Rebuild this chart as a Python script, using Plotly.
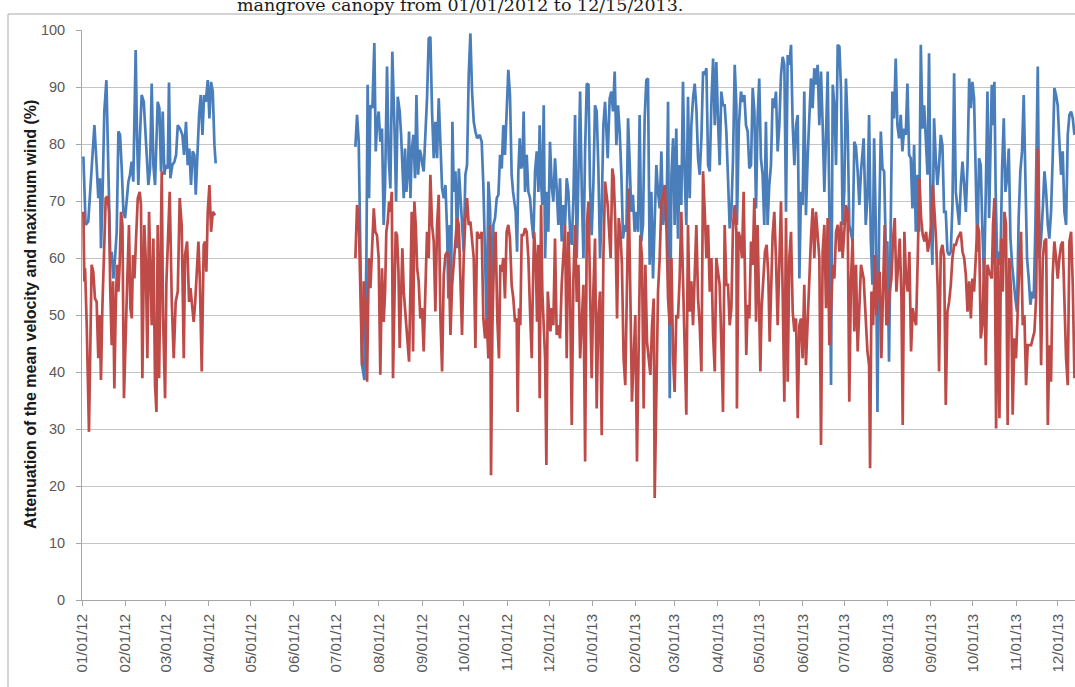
import plotly.graph_objects as go
import pandas as pd

# ---------------- data (day offset from 2012-01-01, value %) ----------------
START = "2012-01-01"

blue_2012_jan_apr = [
    (1.0, 77.8), (2.6, 65.8), (4.5, 66.4), (6.9, 75.7), (8.9, 83.3), (10.5, 76.3), (11.7, 70.5), (12.9, 74.0),
    (13.6, 61.7), (14.6, 69.3), (16.0, 85.7), (17.5, 91.2), (18.4, 81.6), (19.4, 73.4), (20.3, 60.0), (21.3, 61.1),
    (22.5, 56.4), (23.7, 60.0), (24.9, 64.6), (26.1, 82.2), (27.3, 81.6), (28.5, 75.7), (29.7, 68.1), (30.9, 67.0),
    (32.1, 70.5), (33.3, 73.4), (34.4, 74.6), (35.6, 76.9), (36.8, 73.4), (38.5, 96.5), (39.5, 81.0), (40.4, 72.8),
    (41.6, 81.6), (42.8, 88.6), (44.3, 87.4), (45.2, 83.3), (46.4, 77.5), (47.6, 72.8), (48.8, 75.7), (50.0, 90.6),
    (51.2, 76.3), (52.4, 72.8), (54.3, 87.4), (55.5, 86.3), (56.7, 75.2), (57.9, 85.7), (59.1, 74.6), (60.0, 76.3),
    (61.5, 75.7), (62.4, 90.8), (63.4, 74.0), (64.8, 76.3), (66.3, 76.9), (67.5, 78.1), (68.7, 83.3), (70.3, 82.7),
    (72.0, 81.6), (73.2, 78.1), (74.6, 83.9), (75.8, 76.3), (77.0, 79.2), (78.2, 72.8), (79.4, 78.7), (80.6, 78.1),
    (81.6, 71.1), (82.8, 79.2), (84.0, 85.1), (85.2, 88.6), (86.4, 81.6), (87.6, 88.6), (88.8, 87.4), (90.2, 91.2),
    (91.4, 84.5), (92.6, 90.9), (93.8, 89.2), (95.0, 79.8), (95.9, 76.6),
]

red_2012_jan_apr = [
    (1.0, 68.1), (1.7, 55.9), (2.2, 58.2), (3.4, 48.2), (5.0, 29.5), (6.9, 58.8), (8.1, 57.6), (9.3, 52.9),
    (10.5, 52.3), (11.7, 42.4), (12.7, 50.0), (13.6, 38.6), (14.6, 51.2), (15.6, 60.0), (17.0, 70.5), (18.4, 70.8),
    (19.4, 68.1), (20.3, 54.1), (21.3, 44.7), (22.3, 55.9), (23.2, 37.1), (24.2, 51.2), (25.1, 58.8), (26.1, 54.1),
    (27.0, 58.8), (28.0, 68.1), (29.0, 65.8), (30.1, 35.4), (31.3, 48.2), (32.3, 54.7), (33.7, 65.8), (34.7, 51.2),
    (35.7, 49.4), (36.6, 60.5), (37.6, 56.4), (38.5, 62.9), (40.0, 70.5), (41.4, 71.6), (42.3, 69.3), (43.3, 38.9),
    (44.7, 65.8), (45.7, 60.0), (46.9, 42.4), (48.1, 68.1), (49.0, 58.8), (50.0, 48.2), (51.2, 63.4), (52.4, 37.7),
    (53.4, 33.0), (54.3, 65.8), (55.3, 38.9), (56.5, 69.9), (57.2, 75.2), (58.1, 50.0), (59.6, 35.4), (60.5, 55.3),
    (62.0, 64.6), (62.9, 71.6), (64.4, 52.3), (65.8, 42.4), (67.2, 52.3), (68.7, 54.1), (70.1, 70.5), (71.5, 65.8),
    (73.0, 42.4), (73.9, 60.5), (75.4, 62.9), (76.8, 52.3), (77.8, 54.7), (79.2, 51.2), (80.1, 48.8), (81.1, 51.8),
    (82.3, 58.8), (83.5, 62.9), (84.5, 56.4), (85.9, 40.1), (87.3, 62.3), (88.3, 62.9), (89.2, 57.6), (90.2, 68.1),
    (91.4, 72.8), (92.6, 64.6), (93.8, 68.1), (95.5, 67.5),
]

blue_2012_jul_oct = [
    (196.1, 79.5), (197.3, 85.1), (198.5, 80.4), (199.7, 60.0), (200.9, 41.2), (202.6, 38.6), (204.0, 60.0), (204.9, 90.4),
    (205.9, 70.5), (206.9, 86.8), (208.3, 86.3), (209.7, 97.7), (210.7, 78.7), (211.6, 83.3), (212.8, 85.7), (214.0, 80.4),
    (215.2, 82.7), (216.4, 65.8), (217.4, 72.8), (218.8, 93.6), (220.0, 77.5), (221.2, 72.2), (222.6, 96.2), (224.1, 83.3),
    (225.3, 69.9), (226.5, 88.3), (227.9, 85.7), (228.9, 81.6), (229.8, 74.6), (230.8, 70.5), (231.7, 79.2), (232.7, 71.6),
    (233.7, 75.2), (234.6, 82.2), (235.6, 70.5), (236.5, 78.7), (237.7, 81.6), (238.9, 74.0), (239.9, 88.6), (241.1, 74.6),
    (242.3, 79.0), (243.2, 78.1), (244.2, 76.3), (245.1, 75.2), (246.3, 81.6), (247.5, 88.0), (248.7, 98.5), (249.9, 98.8),
    (251.1, 85.7), (252.3, 77.5), (253.5, 83.9), (254.7, 77.5), (255.9, 88.0), (257.1, 79.8), (258.3, 72.2), (259.5, 70.5),
    (260.7, 72.8), (261.9, 64.6), (262.8, 52.9), (263.8, 65.8), (264.8, 55.3), (265.7, 83.9), (266.7, 71.6), (267.9, 75.2),
    (269.1, 61.7), (270.3, 75.7), (271.5, 70.5), (272.6, 67.5), (273.8, 61.1), (275.0, 74.6), (276.2, 76.3), (277.4, 92.1),
    (278.6, 99.4), (279.8, 89.2), (281.0, 83.9), (282.2, 82.2), (283.4, 81.0), (285.3, 81.6),
]

red_2012_jul_oct = [
    (196.1, 60.0), (197.3, 69.3), (198.5, 67.0), (199.7, 54.1), (200.9, 41.2), (202.1, 55.9), (203.3, 52.3), (204.5, 38.3),
    (205.7, 60.0), (206.9, 54.7), (208.1, 62.9), (209.3, 68.7), (210.4, 64.6), (211.6, 64.0), (212.8, 60.0), (214.0, 39.5),
    (215.2, 58.2), (216.4, 48.8), (217.4, 54.1), (218.3, 64.6), (219.3, 66.4), (220.3, 69.9), (221.2, 68.1), (222.2, 71.6),
    (223.1, 38.9), (224.1, 56.4), (225.0, 64.6), (226.0, 64.0), (227.0, 57.6), (227.9, 44.2), (228.9, 55.3), (229.8, 61.7),
    (230.8, 54.1), (231.7, 51.2), (232.7, 48.2), (233.7, 44.7), (234.6, 41.8), (235.6, 54.7), (236.5, 68.1), (237.5, 43.6),
    (238.4, 69.9), (239.4, 65.8), (240.4, 58.2), (241.5, 55.9), (242.7, 49.4), (243.9, 51.2), (245.1, 43.6), (246.3, 54.1),
    (247.5, 64.6), (248.7, 60.0), (249.9, 74.6), (251.1, 65.8), (252.3, 62.9), (253.5, 50.6), (254.7, 65.8), (255.9, 71.1),
    (257.1, 49.4), (258.3, 40.1), (259.5, 57.0), (260.7, 60.5), (261.9, 61.1), (263.1, 60.0), (264.3, 46.5), (265.5, 55.3),
    (266.7, 58.8), (267.9, 63.4), (269.1, 67.0), (270.3, 65.8), (271.5, 54.1), (272.6, 46.5), (273.8, 60.0), (275.0, 67.0),
    (276.2, 70.5), (277.4, 65.8), (278.6, 66.4), (279.8, 63.4), (281.0, 60.0), (282.2, 44.2), (283.4, 64.6), (285.3, 63.4),
]

blue_2012_oct_2013_jan = [
    (286.7, 80.4), (287.9, 72.8), (289.1, 60.0), (290.3, 48.2), (291.5, 73.4), (292.7, 68.7), (293.9, 48.2), (295.1, 65.8),
    (296.3, 67.0), (297.5, 70.5), (298.7, 71.1), (299.9, 78.1), (301.1, 75.7), (302.2, 83.3), (303.4, 78.1), (304.6, 86.8),
    (305.8, 93.0), (307.0, 88.6), (308.2, 74.6), (309.2, 71.6), (310.1, 69.3), (311.1, 68.1), (312.1, 61.1), (313.0, 75.2),
    (314.0, 81.0), (314.9, 75.7), (315.9, 76.3), (316.8, 85.7), (317.8, 71.6), (319.0, 78.1), (320.2, 71.6), (321.4, 70.5),
    (322.6, 66.4), (323.8, 63.4), (325.0, 75.2), (326.2, 78.7), (327.4, 71.6), (328.3, 83.3), (329.3, 73.4), (330.2, 69.3),
    (331.2, 86.8), (332.2, 60.0), (333.3, 71.6), (334.5, 64.6), (335.7, 80.4), (336.9, 72.8), (338.1, 69.9), (339.3, 77.5),
    (340.5, 72.2), (341.7, 65.8), (342.9, 74.0), (344.1, 62.9), (345.3, 69.3), (346.5, 65.8), (347.7, 74.0), (348.9, 71.6),
    (350.1, 64.6), (351.3, 62.3), (352.5, 70.5), (353.7, 85.1), (354.9, 60.0), (356.1, 76.3), (357.3, 89.2), (358.5, 71.6),
    (359.7, 60.0), (360.9, 79.2), (362.1, 90.6), (363.3, 90.4), (364.4, 72.8), (365.6, 64.0), (366.8, 72.8), (368.0, 86.8),
    (369.2, 85.7), (370.4, 75.7), (371.6, 60.0), (372.8, 68.7), (374.0, 83.3), (375.2, 87.4), (377.1, 77.5),
]

red_2012_oct_2013_jan = [
    (286.7, 64.6), (287.9, 49.4), (289.1, 45.9), (290.3, 49.4), (291.5, 42.4), (292.7, 65.8), (293.4, 21.9), (294.4, 48.2),
    (295.5, 60.0), (296.7, 64.6), (297.9, 49.4), (299.1, 42.4), (300.1, 58.8), (301.1, 57.6), (302.2, 60.0), (303.4, 52.9),
    (304.6, 64.6), (305.8, 65.8), (307.0, 63.4), (308.2, 55.3), (309.4, 52.9), (310.6, 48.8), (311.8, 49.4), (312.5, 33.0),
    (313.5, 51.2), (314.4, 48.2), (315.4, 64.0), (316.6, 64.0), (317.8, 65.2), (319.0, 64.6), (320.2, 60.0), (321.4, 50.6),
    (322.6, 42.4), (323.3, 52.9), (324.3, 64.6), (325.5, 60.0), (326.4, 48.8), (327.4, 62.3), (328.3, 35.4), (329.3, 69.3),
    (330.2, 54.1), (331.2, 48.2), (332.2, 42.4), (333.1, 23.7), (334.1, 54.1), (335.0, 50.6), (336.0, 47.1), (336.9, 51.2),
    (338.1, 48.2), (339.3, 63.4), (340.5, 46.5), (341.7, 48.2), (342.9, 45.9), (344.1, 55.3), (345.3, 60.0), (346.5, 65.8),
    (347.7, 42.4), (348.9, 64.6), (350.1, 54.1), (351.3, 30.7), (352.5, 56.4), (353.7, 65.8), (354.9, 52.3), (356.1, 58.8),
    (357.3, 42.4), (358.5, 50.0), (359.7, 55.3), (360.9, 24.3), (362.1, 65.8), (363.3, 69.9), (364.4, 51.2), (365.6, 38.9),
    (366.8, 54.1), (368.0, 63.4), (369.2, 33.6), (370.4, 50.0), (371.6, 54.1), (372.8, 28.9), (374.0, 60.0), (375.2, 73.4),
    (377.1, 69.3),
]

blue_2013_jan_apr = [
    (378.5, 88.0), (379.7, 89.2), (380.9, 85.7), (382.1, 92.7), (383.3, 79.8), (384.5, 86.8), (385.7, 82.2), (386.9, 74.6),
    (388.1, 63.4), (389.3, 65.8), (390.5, 64.6), (391.7, 84.5), (392.9, 76.3), (394.0, 68.1), (395.2, 71.1), (396.4, 64.6),
    (397.6, 68.1), (398.8, 64.6), (400.0, 85.1), (401.2, 62.9), (402.4, 65.8), (403.6, 84.5), (404.8, 91.2), (406.0, 91.5),
    (407.2, 58.8), (408.4, 71.6), (409.6, 56.4), (410.8, 65.8), (412.0, 76.3), (413.2, 71.6), (414.4, 68.7), (415.6, 78.7),
    (416.8, 65.8), (418.0, 71.6), (419.2, 65.2), (420.4, 87.4), (421.6, 35.4), (422.8, 74.6), (424.0, 81.0), (425.1, 65.8),
    (426.3, 82.7), (427.5, 63.4), (428.7, 76.3), (429.9, 69.3), (431.1, 90.9), (432.3, 74.6), (433.5, 65.8), (434.7, 88.3),
    (435.9, 70.5), (437.1, 83.3), (438.3, 88.0), (439.5, 90.6), (440.7, 86.3), (441.9, 77.5), (443.1, 74.6), (444.3, 81.0),
    (445.5, 92.7), (446.7, 92.1), (447.9, 93.3), (449.1, 76.3), (450.3, 75.2), (451.5, 87.4), (452.7, 95.0), (453.9, 83.3),
    (455.0, 94.4), (456.2, 84.5), (457.4, 76.3), (458.6, 89.2), (459.8, 86.8), (461.0, 86.8), (462.2, 82.2), (463.4, 74.0),
    (464.6, 65.2), (465.8, 68.1), (467.0, 77.5), (468.2, 93.9), (469.4, 86.8),
]

red_2013_jan_apr = [
    (379.2, 60.0), (380.4, 75.7), (381.4, 74.0), (382.6, 65.8), (383.8, 49.4), (385.0, 67.0), (386.2, 64.6), (387.3, 58.8),
    (388.5, 42.4), (389.7, 37.7), (390.9, 54.1), (392.1, 72.2), (393.3, 54.1), (394.5, 34.8), (395.7, 42.4), (396.9, 50.0),
    (398.1, 24.3), (399.3, 42.4), (400.5, 64.0), (401.7, 60.0), (402.9, 33.6), (404.1, 58.8), (405.3, 45.3), (406.5, 42.4),
    (407.7, 39.5), (408.9, 48.2), (410.1, 52.9), (410.8, 17.9), (412.0, 37.7), (413.2, 54.1), (414.4, 60.0), (415.6, 69.9),
    (416.8, 70.5), (418.0, 72.8), (419.2, 65.8), (420.4, 52.9), (421.6, 48.2), (422.8, 60.0), (424.0, 42.4), (425.1, 36.5),
    (426.3, 50.0), (427.5, 49.4), (428.7, 56.4), (429.9, 68.1), (431.1, 56.4), (432.3, 44.2), (433.5, 32.5), (434.7, 65.8),
    (435.9, 50.6), (437.1, 55.9), (438.3, 48.2), (439.5, 57.0), (440.7, 65.8), (441.9, 52.9), (443.1, 48.2), (444.3, 40.1),
    (445.5, 75.2), (446.7, 68.1), (447.9, 60.0), (449.1, 65.8), (450.3, 54.1), (451.5, 60.0), (452.7, 46.5), (453.9, 40.1),
    (455.0, 60.0), (456.2, 57.6), (457.4, 55.3), (458.6, 45.3), (459.8, 33.0), (461.0, 65.8), (462.2, 55.3), (463.4, 55.3),
    (464.6, 48.2), (465.8, 51.2), (467.0, 65.8), (468.2, 69.3), (469.4, 64.6),
]

blue_2013_apr_jul = [
    (469.8, 65.8), (471.2, 83.3), (472.7, 89.2), (473.9, 87.4), (475.1, 88.6), (476.3, 83.3), (477.5, 82.2), (478.7, 75.7),
    (479.9, 76.3), (481.1, 89.8), (482.3, 85.7), (483.5, 68.7), (484.6, 84.5), (485.8, 91.5), (487.0, 77.5), (488.2, 74.6),
    (489.4, 65.8), (490.6, 83.9), (491.8, 65.8), (493.0, 72.8), (494.2, 76.3), (495.4, 88.0), (496.6, 86.3), (497.8, 89.2),
    (499.0, 78.7), (500.2, 83.3), (501.4, 92.1), (502.6, 95.3), (503.8, 93.9), (505.0, 68.1), (506.2, 95.6), (507.4, 93.9),
    (508.6, 97.4), (509.8, 83.3), (511.0, 76.3), (512.2, 83.3), (513.4, 85.1), (514.6, 56.4), (515.7, 71.6), (516.9, 69.3),
    (518.1, 89.2), (519.3, 67.5), (520.5, 77.5), (521.7, 85.7), (522.9, 91.5), (524.1, 86.3), (525.3, 93.3), (526.5, 90.4),
    (527.7, 93.9), (528.9, 83.3), (530.1, 92.7), (531.3, 83.3), (532.5, 71.6), (533.7, 81.6), (534.9, 92.7), (536.1, 68.7),
    (537.3, 37.7), (538.5, 90.4), (539.7, 86.8), (540.9, 76.3), (542.1, 97.4), (543.3, 97.1), (544.5, 89.2), (545.6, 65.8),
    (546.8, 71.6), (548.0, 91.5), (549.2, 83.3), (550.4, 65.8), (551.6, 64.6), (552.8, 62.9), (554.0, 80.4), (555.2, 79.5),
    (556.4, 75.2), (557.6, 69.3), (558.8, 75.2), (560.7, 81.0),
]

red_2013_apr_jul = [
    (469.8, 33.6), (471.0, 64.6), (472.2, 63.4), (473.4, 60.0), (474.6, 71.6), (475.8, 52.9), (476.5, 43.0), (477.5, 51.8),
    (478.7, 49.4), (479.9, 62.9), (481.1, 58.8), (482.3, 70.5), (483.5, 48.8), (484.6, 65.8), (485.8, 48.2), (486.6, 40.1),
    (487.5, 51.2), (488.7, 56.4), (489.9, 61.1), (491.1, 62.3), (492.3, 57.0), (493.3, 45.3), (494.2, 54.1), (495.4, 64.0),
    (496.6, 68.1), (497.8, 60.0), (499.0, 48.2), (500.2, 61.1), (501.4, 69.9), (502.6, 54.1), (503.8, 34.8), (505.0, 67.0),
    (506.2, 38.3), (507.4, 60.0), (508.6, 64.6), (509.8, 50.6), (511.0, 47.1), (512.2, 49.4), (513.4, 31.9), (514.6, 48.2),
    (515.7, 49.4), (516.9, 42.4), (518.1, 55.3), (519.3, 41.2), (520.5, 49.4), (521.7, 54.1), (522.9, 63.4), (524.1, 68.7),
    (525.3, 60.0), (526.5, 68.1), (527.7, 62.9), (528.9, 60.0), (530.1, 27.2), (531.3, 61.1), (532.5, 65.8), (533.7, 51.2),
    (534.9, 67.0), (536.1, 44.7), (537.3, 50.6), (538.5, 58.8), (539.7, 56.4), (540.9, 64.6), (542.1, 65.8), (543.3, 61.1),
    (544.5, 66.4), (545.6, 60.0), (546.8, 64.6), (548.0, 69.3), (549.2, 68.1), (550.4, 34.8), (551.6, 56.4), (552.8, 63.4),
    (554.0, 47.1), (555.2, 58.8), (556.4, 43.6), (557.6, 51.2), (558.8, 58.8), (560.7, 56.4),
]

blue_2013_jul_oct = [
    (562.2, 65.8), (563.4, 70.5), (564.6, 85.1), (565.8, 63.4), (567.0, 55.3), (568.2, 81.0), (569.4, 65.8), (570.6, 33.0),
    (571.8, 65.8), (573.0, 82.2), (574.2, 75.7), (575.4, 75.2), (576.5, 62.3), (577.7, 62.9), (578.9, 41.8), (580.1, 65.8),
    (581.3, 89.2), (582.5, 84.5), (583.7, 95.0), (584.9, 83.3), (586.1, 81.0), (587.3, 85.1), (588.5, 78.7), (589.7, 82.7),
    (590.9, 81.6), (592.1, 90.6), (593.3, 78.1), (594.5, 77.5), (595.7, 68.7), (596.9, 79.8), (598.1, 64.6), (599.3, 74.6),
    (600.5, 64.6), (601.7, 97.4), (602.9, 82.7), (604.1, 86.8), (605.3, 81.6), (606.5, 74.6), (607.6, 95.9), (608.8, 67.0),
    (610.0, 58.8), (611.2, 84.5), (612.4, 77.5), (613.6, 72.8), (614.8, 76.3), (616.0, 81.6), (617.2, 79.8), (618.4, 68.1),
    (619.6, 68.1), (620.8, 61.1), (622.0, 60.5), (623.2, 61.1), (624.4, 69.3), (625.6, 92.4), (626.8, 71.6), (628.0, 68.1),
    (629.2, 65.8), (630.4, 72.8), (631.6, 76.9), (632.8, 72.8), (634.0, 68.1), (635.2, 76.3), (636.4, 91.5), (637.6, 86.3),
    (638.7, 90.9), (639.9, 88.0), (641.1, 71.6), (642.3, 61.1), (643.5, 77.5), (644.7, 76.3), (645.9, 64.6), (647.1, 56.4),
    (648.3, 71.6), (649.5, 89.2), (650.7, 67.0), (652.6, 90.4),
]

red_2013_jul_oct = [
    (562.2, 48.2), (563.4, 43.6), (564.6, 41.2), (565.3, 23.1), (566.3, 54.1), (567.5, 48.2), (568.7, 60.5), (569.9, 50.0),
    (571.0, 55.3), (572.2, 57.6), (573.4, 42.4), (574.6, 54.1), (575.8, 65.8), (577.0, 48.2), (578.2, 48.8), (579.4, 54.1),
    (580.6, 56.4), (581.8, 63.4), (583.0, 67.0), (584.2, 54.1), (585.4, 58.2), (586.6, 63.4), (587.8, 52.9), (588.7, 30.7),
    (589.9, 64.6), (591.1, 56.4), (592.3, 54.1), (593.5, 61.1), (594.7, 43.6), (595.9, 51.2), (597.1, 49.4), (598.3, 48.2),
    (599.5, 60.0), (600.7, 74.0), (601.9, 67.0), (603.1, 64.0), (604.3, 62.9), (605.5, 64.6), (606.7, 61.1), (607.9, 62.9),
    (609.1, 65.8), (610.3, 72.8), (611.5, 68.1), (612.7, 62.9), (613.9, 54.1), (614.8, 40.1), (616.0, 61.1), (617.2, 62.3),
    (618.4, 60.0), (619.6, 34.2), (620.8, 50.6), (622.0, 52.3), (623.2, 55.3), (624.4, 60.0), (625.6, 62.3), (626.8, 62.3),
    (628.0, 63.4), (629.2, 64.0), (630.4, 64.6), (631.6, 61.1), (632.8, 60.0), (634.0, 57.0), (635.2, 50.6), (636.4, 55.9),
    (637.6, 49.4), (638.7, 56.4), (639.9, 54.1), (641.1, 60.0), (642.3, 65.8), (643.5, 64.6), (644.7, 45.9), (645.9, 48.2),
    (647.1, 60.0), (648.3, 41.2), (649.5, 58.8), (650.7, 57.6), (652.6, 56.4),
]

blue_2013_oct_dec = [
    (653.5, 83.3), (654.5, 90.9), (655.4, 71.6), (656.4, 60.0), (657.6, 61.1), (658.8, 58.8), (660.0, 75.7), (661.2, 84.5),
    (662.4, 71.6), (663.6, 74.0), (664.8, 79.2), (666.0, 63.4), (667.2, 58.8), (668.4, 55.3), (669.5, 52.9), (670.7, 50.6),
    (671.9, 67.0), (673.1, 75.2), (674.3, 78.7), (675.5, 88.6), (676.7, 72.8), (677.9, 60.0), (679.1, 56.4), (680.3, 51.8),
    (681.5, 54.1), (682.7, 52.9), (683.9, 65.8), (685.6, 93.6), (686.8, 60.0), (688.0, 63.4), (689.2, 68.7), (690.4, 75.2),
    (691.6, 71.6), (692.8, 65.8), (693.9, 63.4), (695.1, 68.1), (696.3, 77.5), (697.5, 89.8), (698.7, 88.6), (699.9, 86.8),
    (701.1, 80.4), (702.3, 74.6), (703.5, 78.7), (704.7, 68.1), (705.9, 65.8), (707.1, 81.6), (708.3, 85.1), (709.5, 85.7),
    (710.7, 84.5), (711.9, 81.6),
]

red_2013_oct_dec = [
    (653.5, 65.8), (654.5, 70.5), (655.7, 30.1), (656.9, 60.0), (658.1, 31.9), (659.3, 63.4), (660.5, 54.1), (661.7, 68.1),
    (662.8, 65.8), (664.0, 30.7), (665.2, 60.0), (666.4, 54.1), (667.6, 32.5), (668.8, 45.9), (670.0, 42.4), (671.2, 51.2),
    (672.4, 58.8), (673.6, 64.6), (674.8, 48.2), (676.0, 50.0), (677.2, 37.7), (678.4, 44.7), (679.6, 44.7), (680.8, 44.7),
    (682.0, 45.9), (683.2, 47.1), (684.4, 52.9), (685.6, 79.2), (686.8, 61.1), (688.0, 41.2), (689.2, 60.0), (690.4, 62.9),
    (691.6, 63.4), (692.8, 30.7), (693.9, 44.7), (695.1, 38.3), (696.3, 57.0), (697.5, 62.9), (698.7, 60.0), (699.9, 56.4),
    (701.1, 60.0), (702.3, 62.3), (703.5, 62.9), (704.7, 52.9), (705.9, 42.4), (707.1, 37.7), (708.3, 62.9), (709.5, 64.6),
    (710.7, 55.3), (711.9, 38.9),
]

# no measurements between April and mid-July 2012
GAP = [(150.0, None)]

month_labels = ["01/01/12", "02/01/12", "03/01/12", "04/01/12", "05/01/12", "06/01/12",
                "07/01/12", "08/01/12", "09/01/12", "10/01/12", "11/01/12", "12/01/12",
                "01/01/13", "02/01/13", "03/01/13", "04/01/13", "05/01/13", "06/01/13",
                "07/01/13", "08/01/13", "09/01/13", "10/01/13", "11/01/13", "12/01/13"]
y_ticks = [0, 10, 20, 30, 40, 50, 60, 70, 80, 90, 100]

TITLE = "mangrove canopy from 01/01/2012 to 12/15/2013."
YTITLE = "Attenuation of the mean velocity and maximum wind (%)"

# ---------------- build ----------------
base = pd.Timestamp(START)


def to_xy(*chunks):
    xs, ys = [], []
    for ch in chunks:
        for d, v in ch:
            xs.append(base + pd.Timedelta(days=d))
            ys.append(v)
    return xs, ys


bx, by = to_xy(blue_2012_jan_apr, GAP, blue_2012_jul_oct, blue_2012_oct_2013_jan,
               blue_2013_jan_apr, blue_2013_apr_jul, blue_2013_jul_oct, blue_2013_oct_dec)
rx, ry = to_xy(red_2012_jan_apr, GAP, red_2012_jul_oct, red_2012_oct_2013_jan,
               red_2013_jan_apr, red_2013_apr_jul, red_2013_jul_oct, red_2013_oct_dec)

tickvals = pd.to_datetime(month_labels, format="%m/%d/%y")

BLUE = "#4a7ebb"
RED = "#be4b48"

fig = go.Figure()
fig.add_trace(go.Scatter(x=bx, y=by, mode="lines", line=dict(color=BLUE, width=2.7),
                         connectgaps=False, showlegend=False))
fig.add_trace(go.Scatter(x=rx, y=ry, mode="lines", line=dict(color=RED, width=2.7),
                         connectgaps=False, showlegend=False))

W, H = 1075, 687
L, R, T, B = 82, 0, 30, 87
pw, ph = W - L - R, H - T - B


def px_x(p):
    return (p - L) / pw


def px_y(p):
    return (H - B - p) / ph


fig.update_layout(
    template="none",
    width=W, height=H,
    margin=dict(l=L, r=R, t=T, b=B, pad=0, autoexpand=False),
    paper_bgcolor="white", plot_bgcolor="white",
    font=dict(family="Liberation Sans", color="#595959"),
    xaxis=dict(
        type="date", automargin=False,
        range=[base, base + pd.Timedelta(days=712.3)],
        tickvals=tickvals, ticktext=month_labels, tickangle=-90,
        tickfont=dict(size=15, color="#595959"),
        ticks="outside", ticklen=5, tickcolor="#a6a6a6", tickwidth=1,
        showgrid=False, showline=True, linecolor="#a6a6a6", linewidth=1,
        zeroline=False, ticklabelstandoff=2,
    ),
    yaxis=dict(
        range=[0, 100], tickvals=y_ticks, automargin=False,
        tickfont=dict(size=14.5, color="#595959"),
        ticks="outside", ticklen=5, tickcolor="#a6a6a6", tickwidth=1,
        showgrid=True, gridcolor="#c4c4c4", gridwidth=1,
        showline=True, linecolor="#a6a6a6", linewidth=1,
        zeroline=False, ticklabelstandoff=8,
    ),
    shapes=[
        dict(type="rect", xref="paper", yref="paper",
             x0=px_x(8), x1=px_x(1090), y0=px_y(700), y1=px_y(14),
             line=dict(color="#a8a8a8", width=1), fillcolor="rgba(0,0,0,0)", layer="below"),
    ],
    annotations=[
        dict(text=TITLE, xref="paper", yref="paper", x=px_x(460), y=px_y(17),
             xanchor="center", yanchor="bottom", showarrow=False,
             font=dict(family="DejaVu Serif", size=17.5, color="#1a1a1a")),
        dict(text=YTITLE, xref="paper", yref="paper", x=px_x(30), y=0.5,
             xanchor="center", yanchor="middle", textangle=-90, showarrow=False,
             font=dict(family="Liberation Sans", size=16, color="#1a1a1a", weight="bold")),
    ],
)

# the page's default 8px body margin would offset the chart inside the window
fig.write_html("out.html", config={"displayModeBar": False},
               post_script="document.body.style.margin='0px';")
